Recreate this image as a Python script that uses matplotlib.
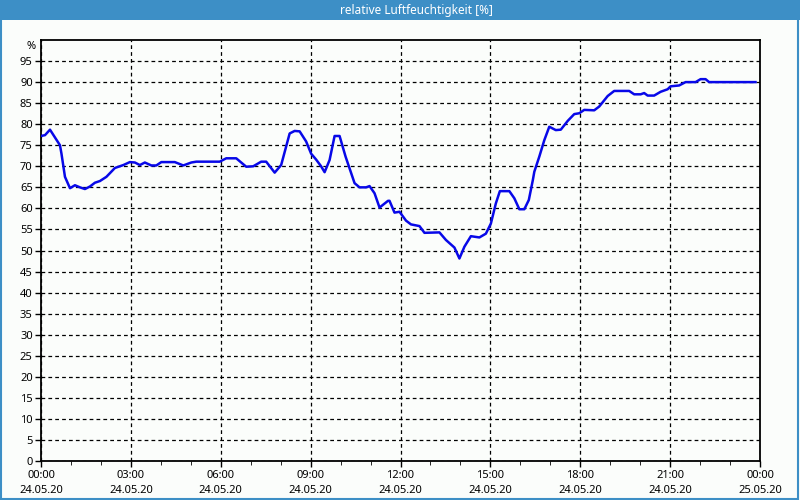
import matplotlib
matplotlib.use("Agg")
import matplotlib.pyplot as plt
from matplotlib.patches import Rectangle

plt.rcParams['font.family'] = ['Noto Sans', 'DejaVu Sans']

# minutes after 24.05.20 00:00 and relative humidity in %
minutes = [0, 8, 18, 38, 41, 48, 58, 68, 78, 88, 98, 108, 118, 131, 148, 165,
           178, 188, 198, 208, 221, 231, 241, 268, 285, 301, 311, 358, 371, 391,
           411, 425, 441, 451, 468, 481, 498, 508, 518, 531, 541, 551, 561, 568,
           578, 588, 598, 610, 628, 638, 651, 658, 668, 678, 695, 698, 708, 718,
           731, 741, 758, 768, 798, 811, 828, 838, 848, 861, 878, 891, 901, 911,
           919, 938, 948, 958, 968, 977, 985, 988, 998, 1008, 1018, 1031, 1041,
           1055, 1068, 1078, 1088, 1108, 1118, 1135, 1148, 1178, 1188, 1201,
           1208, 1215, 1228, 1241, 1255, 1261, 1278, 1291, 1311, 1321, 1331,
           1338, 1431]
humidity = [77.2, 77.4, 78.7, 75.0, 73.0, 67.5, 64.8, 65.5, 65.0, 64.6, 65.2,
            66.1, 66.5, 67.5, 69.6, 70.3, 71.0, 70.9, 70.3, 70.9, 70.2, 70.2,
            71.0, 71.0, 70.2, 70.9, 71.1, 71.1, 71.9, 71.9, 69.9, 70.0, 71.1,
            71.1, 68.5, 70.3, 77.8, 78.4, 78.3, 75.9, 73.0, 71.6, 70.0, 68.6,
            71.5, 77.2, 77.2, 72.3, 66.0, 65.0, 65.0, 65.3, 63.6, 60.2, 61.8,
            61.8, 59.0, 59.2, 57.1, 56.2, 55.8, 54.2, 54.3, 52.5, 50.7, 48.1,
            50.9, 53.4, 53.1, 54.0, 56.4, 61.2, 64.1, 64.1, 62.4, 59.8, 59.8,
            62.0, 66.7, 68.7, 72.3, 76.2, 79.4, 78.6, 78.7, 80.8, 82.4, 82.6,
            83.4, 83.3, 84.2, 86.7, 87.9, 87.9, 87.1, 87.1, 87.4, 86.8, 86.8,
            87.7, 88.3, 89.0, 89.2, 90.0, 90.0, 90.7, 90.7, 90.0, 90.0]

tick_hours = [0, 3, 6, 9, 12, 15, 18, 21, 24]
tick_labels = ["00:00\n24.05.20", "03:00\n24.05.20", "06:00\n24.05.20",
               "09:00\n24.05.20", "12:00\n24.05.20", "15:00\n24.05.20",
               "18:00\n24.05.20", "21:00\n24.05.20", "00:00\n25.05.20"]
y_ticks = list(range(0, 100, 5))

bg = '#fbfdfb'
fig = plt.figure(figsize=(8, 5), dpi=100, facecolor=bg)

# title bar and frame
fig.patches.append(Rectangle((0, 0.96), 1, 0.04, transform=fig.transFigure,
                             facecolor='#3d8fc6', edgecolor='none', zorder=0))
fig.patches.append(Rectangle((0.001, 0.002), 0.997, 0.996, transform=fig.transFigure,
                             facecolor='none', edgecolor='#3d8fc6', lw=1.5, zorder=5))
fig.text(0.521, 0.979, "relative Luftfeuchtigkeit [%]", color='white',
         ha='center', va='center', fontsize=8.5, fontweight='semibold')

ax = fig.add_axes([41 / 800, 39 / 500, 719 / 800, 421 / 500])
ax.set_facecolor(bg)

hours = [m / 60 for m in minutes]
ax.plot(hours, humidity, color='#0808e8', lw=1.8, zorder=3)

ax.set_xlim(0, 24)
ax.set_ylim(0, 100)
ax.set_xticks(tick_hours)
ax.set_xticklabels(tick_labels, fontsize=8, linespacing=1.55)
ax.set_xticks(range(0, 25), minor=True)
ax.set_yticks(y_ticks)
ax.set_yticklabels([str(v) for v in y_ticks], fontsize=8)
ax.tick_params(axis='both', direction='out', length=4, width=1, color='black', pad=2)
ax.tick_params(axis='x', which='minor', length=3)
ax.tick_params(axis='x', pad=2.5)

ax.grid(True, which='major', color='black', linestyle=(0, (3, 2.5)), lw=0.9)
for s in ax.spines.values():
    s.set_linewidth(1.3)

ax.text(-0.008, 0.985, "%", transform=ax.transAxes, ha='right', va='center', fontsize=8)

fig.savefig("out.png", dpi=100, facecolor=bg)
